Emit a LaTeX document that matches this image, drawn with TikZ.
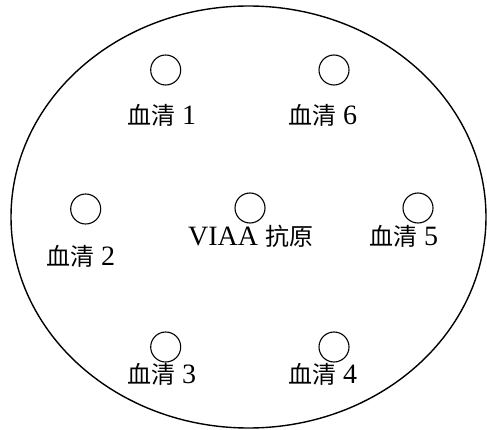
\documentclass[tikz,border=0pt]{standalone}
\usepackage{fontspec}
\setmainfont{Liberation Serif}
\newfontfamily\cjk{Noto Sans CJK SC}
\newcommand{\xq}[1]{{\cjk\fontsize{24}{26}\selectfont #1}}
\begin{document}
\begin{tikzpicture}[x=1pt,y=1pt,
  well/.style={circle,draw,line width=1.1pt,minimum size=30pt,inner sep=0pt},
  lbl/.style={anchor=base west,inner sep=0pt,font=\fontsize{28}{30}\selectfont}]
\useasboundingbox (0,0) rectangle (487,429);
\draw[line width=1.4pt] (248.5,212) ellipse [x radius=237.5, y radius=211];
\node[well] (w1) at (165.7,359) {};
\node[well] (w6) at (334,359) {};
\node[well] (w2) at (85.7,220) {};
\node[well] (wc) at (250,221) {};
\node[well] (w5) at (418,221) {};
\node[well] (w3) at (165.7,82) {};
\node[well] (w4) at (334,82) {};
\node[lbl] (l1) at (127,304) {\xq{血清} 1};
\node[lbl] (l6) at (288,304) {\xq{血清} 6};
\node[lbl] (l2) at (46,164) {\xq{血清} 2};
\node[lbl] (lc) at (188,184) {VIAA \xq{抗原}};
\node[lbl] (l5) at (369,184) {\xq{血清} 5};
\node[lbl] (l3) at (127,46) {\xq{血清} 3};
\node[lbl] (l4) at (288,46) {\xq{血清} 4};
\end{tikzpicture}
\end{document}
